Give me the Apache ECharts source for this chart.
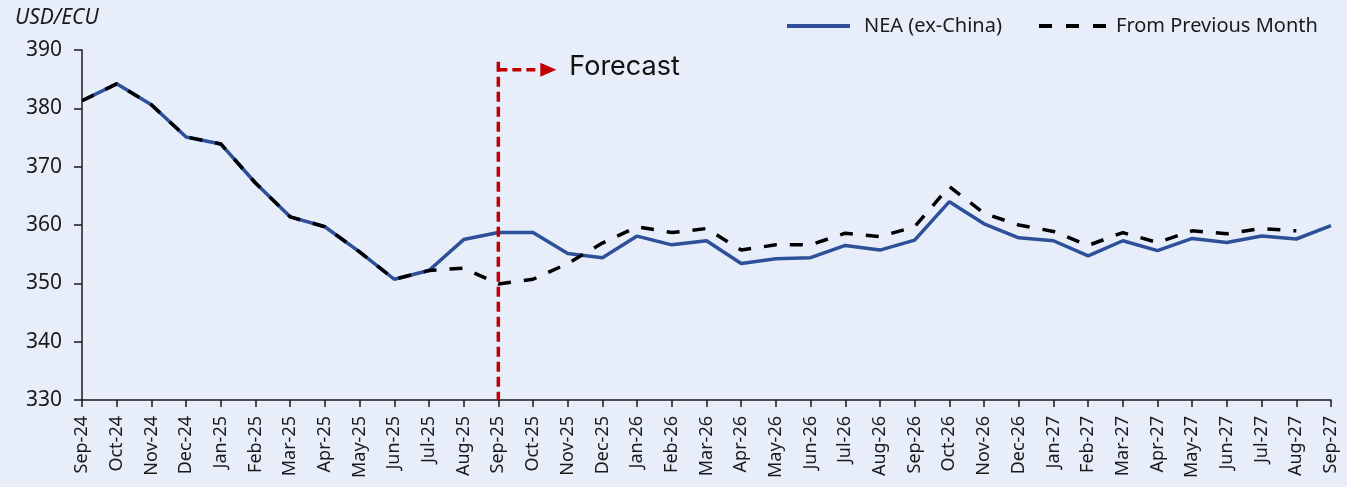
<!DOCTYPE html>
<html>
<head>
<meta charset="utf-8">
<script src="https://cdn.jsdelivr.net/npm/echarts@6/dist/echarts.min.js"></script>
<style>
  html, body { margin: 0; padding: 0; background: #ffffff; }
  #chart { width: 1347px; height: 487px; background: #E7EEF9; }
</style>
</head>
<body>
<div id="chart"></div>
<script>
// Monthly categories, Sep-24 .. Sep-27
const months = [
  'Sep-24','Oct-24','Nov-24','Dec-24','Jan-25','Feb-25','Mar-25','Apr-25','May-25','Jun-25','Jul-25','Aug-25',
  'Sep-25','Oct-25','Nov-25','Dec-25','Jan-26','Feb-26','Mar-26','Apr-26','May-26','Jun-26','Jul-26','Aug-26',
  'Sep-26','Oct-26','Nov-26','Dec-26','Jan-27','Feb-27','Mar-27','Apr-27','May-27','Jun-27','Jul-27','Aug-27',
  'Sep-27'
];

// NEA (ex-China), USD/ECU
const nea = [
  381.3, 384.2, 380.6, 375.1, 373.9, 367.2, 361.4, 359.7, 355.4, 350.7, 352.2, 357.5,
  358.7, 358.7, 355.1, 354.4, 358.1, 356.6, 357.3, 353.4, 354.2, 354.4, 356.5, 355.7,
  357.4, 364.0, 360.2, 357.8, 357.3, 354.7, 357.3, 355.6, 357.7, 357.0, 358.1, 357.6,
  359.9
];

// Previous month's outlook
const prevMonth = [
  381.3, 384.2, 380.6, 375.1, 373.9, 367.2, 361.4, 359.7, 355.4, 350.7, 352.2, 352.6,
  349.9, 350.7, 353.4, 356.9, 359.7, 358.7, 359.4, 355.7, 356.6, 356.6, 358.6, 358.0,
  359.7, 366.6, 362.0, 360.0, 358.9, 356.5, 358.7, 357.0, 359.0, 358.5, 359.4, 359.0,
  null
];

const yTicks = { min: 330, max: 390, step: 10 };
const forecastStart = 'Sep-25';
const forecastTop = 388;

const FONT = '"Noto Sans", "Open Sans", sans-serif';
const BLUE = '#2E5099';
const RED = '#C00000';
const INK = '#1a1a1a';
const DASH = [13, 13];

const chart = echarts.init(document.getElementById('chart'), null, { renderer: 'canvas' });

chart.setOption({
  backgroundColor: '#E7EEF9',
  animation: false,
  grid: { left: 82, right: 16, top: 50, bottom: 87, containLabel: false },
  xAxis: {
    type: 'category',
    data: months,
    boundaryGap: false,
    axisLine: { lineStyle: { color: INK, width: 1.5 } },
    axisTick: { show: true, alignWithLabel: true, length: 7, lineStyle: { color: INK, width: 1.5 } },
    axisLabel: {
      interval: 0, rotate: 90, margin: 16,
      fontFamily: FONT, fontSize: 18, color: INK
    },
    splitLine: { show: false }
  },
  yAxis: {
    type: 'value',
    min: yTicks.min, max: yTicks.max, interval: yTicks.step,
    axisLine: { show: true, lineStyle: { color: INK, width: 1.5 } },
    axisTick: { show: true, length: 8, lineStyle: { color: INK, width: 1.5 } },
    axisLabel: { margin: 20, fontFamily: FONT, fontSize: 21, color: INK },
    splitLine: { show: false }
  },
  series: [
    {
      name: 'NEA (ex-China)',
      type: 'line',
      data: nea,
      symbol: 'none',
      z: 2,
      lineStyle: { color: BLUE, width: 3.5 }
    },
    {
      name: 'From Previous Month',
      type: 'line',
      data: prevMonth,
      symbol: 'none',
      z: 3,
      lineStyle: { color: '#000000', width: 3.5, type: DASH }
    }
  ]
});

// Axis title, legend and the forecast marker (dashed rule at the first forecast month + arrow)
function drawOverlay() {
  const top = chart.convertToPixel({ xAxisIndex: 0, yAxisIndex: 0 }, [forecastStart, forecastTop]);
  const bottom = chart.convertToPixel({ xAxisIndex: 0, yAxisIndex: 0 }, [forecastStart, yTicks.min]);
  const x = top[0], y = top[1] + 8;
  const arrowEnd = x + 42;
  const legendY = 26;
  chart.setOption({
    graphic: [
      {
        type: 'text', left: 15, top: 8,
        style: { text: 'USD/ECU', fontFamily: FONT, fontStyle: 'italic', fontSize: 21, fill: INK }
      },
      // legend
      {
        type: 'line', shape: { x1: 787, y1: legendY, x2: 850, y2: legendY },
        style: { stroke: BLUE, lineWidth: 4 }
      },
      {
        type: 'text', x: 864, y: legendY,
        style: { text: 'NEA (ex-China)', fontFamily: FONT, fontSize: 20, fill: INK, verticalAlign: 'middle' }
      },
      {
        type: 'line', shape: { x1: 1039, y1: legendY, x2: 1109, y2: legendY },
        style: { stroke: '#000000', lineWidth: 4, lineDash: [13, 14] }
      },
      {
        type: 'text', x: 1116, y: legendY,
        style: { text: 'From Previous Month', fontFamily: FONT, fontSize: 20, fill: INK, verticalAlign: 'middle' }
      },
      // forecast marker
      {
        type: 'line', z: 10,
        shape: { x1: x, y1: top[1], x2: x, y2: bottom[1] },
        style: { stroke: RED, lineWidth: 3.5, lineDash: [10, 5] }
      },
      {
        type: 'line', z: 10,
        shape: { x1: x, y1: y, x2: arrowEnd, y2: y },
        style: { stroke: RED, lineWidth: 3.5, lineDash: [9, 5] }
      },
      {
        type: 'polygon', z: 10,
        shape: { points: [[arrowEnd, y - 7], [arrowEnd + 16, y], [arrowEnd, y + 7]] },
        style: { fill: RED }
      },
      {
        type: 'text', z: 10,
        x: x + 71, y: y - 3,
        style: {
          text: 'Forecast', fontFamily: 'Inter, "Noto Sans", sans-serif', fontSize: 27,
          fill: '#111111', verticalAlign: 'middle', align: 'left'
        }
      }
    ]
  });
}
drawOverlay();
</script>
</body>
</html>
